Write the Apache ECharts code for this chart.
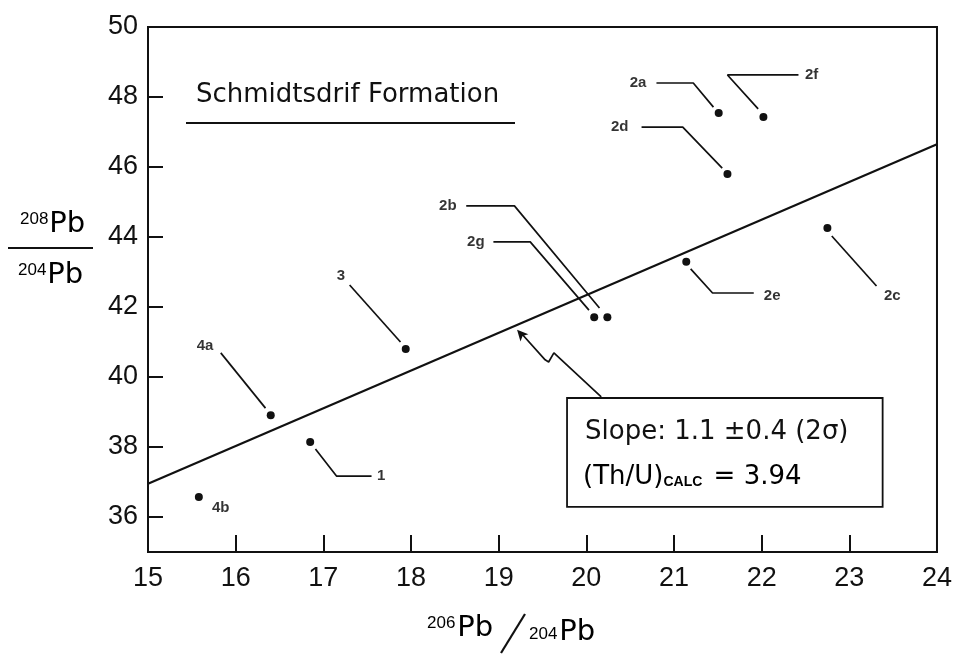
<!DOCTYPE html>
<html>
<head>
<meta charset="utf-8">
<script src="https://cdn.jsdelivr.net/npm/echarts@6/dist/echarts.min.js"></script>
<style>html,body{margin:0;padding:0;background:#fff}#c{width:955px;height:654px}</style>
</head>
<body>
<div id="c"></div>
<script>
// ---- data ----
var sampleNames = ['4b', '4a', '1', '3', '2g', '2b', '2e', '2a', '2f', '2d', '2c'];
var pb206_204 = [15.58, 16.40, 16.85, 17.94, 20.09, 20.24, 21.14, 21.51, 22.02, 21.61, 22.75];
var pb208_204 = [36.57, 38.91, 38.14, 40.80, 41.71, 41.71, 43.29, 47.54, 47.43, 45.80, 44.26];
var fitX = [15, 24];
var fitY = [36.95, 46.65];
var xTickLabels = [15, 16, 17, 18, 19, 20, 21, 22, 23, 24];
var yTickLabels = [36, 38, 40, 42, 44, 46, 48, 50];

// ---- annotation layout (data units) ----
var labelPos = {
  '4b': [15.83, 36.26], '4a': [15.65, 40.89], '1': [17.66, 37.17], '3': [17.20, 42.89],
  '2g': [18.74, 43.86], '2b': [18.42, 44.89], '2e': [22.12, 42.31], '2a': [20.59, 48.40],
  '2f': [22.57, 48.63], '2d': [20.38, 47.14], '2c': [23.49, 42.31]
};
var leaders = [
  [[15.83, 40.69], [16.34, 39.11]],
  [[17.30, 42.63], [17.88, 41.00]],
  [[16.91, 37.94], [17.15, 37.17], [17.55, 37.17]],
  [[18.63, 44.89], [19.18, 44.89], [20.15, 41.97]],
  [[18.94, 43.86], [19.36, 43.86], [20.03, 41.91]],
  [[21.19, 43.09], [21.44, 42.40], [21.91, 42.40]],
  [[22.80, 44.03], [23.31, 42.60]],
  [[20.80, 48.40], [21.22, 48.40], [21.45, 47.71]],
  [[22.42, 48.63], [21.61, 48.63], [21.96, 47.66]],
  [[20.63, 47.14], [21.10, 47.14], [21.55, 45.97]]
];
var arrowPath = [[20.17, 39.43], [19.63, 40.69], [19.57, 40.43], [19.53, 40.49], [19.25, 41.27]];
var arrowHead = [19.21, 41.35];

var FONT = 'Liberation Sans, Arial, Helvetica, sans-serif';
var WIDE = 'DejaVu Sans, Liberation Sans, sans-serif';
var chart = echarts.init(document.getElementById('c'));

var series = [];
series.push({
  type: 'line', data: fitX.map(function (x, i) { return [x, fitY[i]]; }),
  symbol: 'none', silent: true, lineStyle: { color: '#111', width: 2.2 }, z: 3
});
series.push({
  type: 'scatter', data: pb206_204.map(function (x, i) { return [x, pb208_204[i], sampleNames[i]]; }),
  symbol: 'circle', symbolSize: 8, itemStyle: { color: '#111', opacity: 1 }, z: 5
});
leaders.forEach(function (path) {
  series.push({
    type: 'line', data: path, symbol: 'none', silent: true,
    lineStyle: { color: '#111', width: 1.7 }, z: 4
  });
});
series.push({
  type: 'scatter', symbolSize: 0, silent: true,
  data: sampleNames.map(function (n) { return [labelPos[n][0], labelPos[n][1], n]; }),
  label: {
    show: true, position: 'inside', formatter: function (p) { return p.data[2]; },
    color: '#000', fontFamily: FONT, fontWeight: 'bold', fontSize: 15
  }, z: 6
});
series.push({
  type: 'line', data: arrowPath, symbol: 'none', silent: true,
  lineStyle: { color: '#111', width: 1.7 }, z: 4
});
series.push({
  type: 'scatter', data: [arrowHead], symbol: 'arrow', symbolSize: [8, 11], symbolRotate: 42,
  silent: true, itemStyle: { color: '#111', opacity: 1 }, z: 5
});

chart.setOption({
  animation: false,
  backgroundColor: '#fff',
  grid: { left: 148, right: 12, top: 27, bottom: 102, show: true, borderColor: '#111', borderWidth: 2 },
  xAxis: {
    type: 'value', min: 15, max: 24, interval: 1,
    axisLine: { lineStyle: { color: '#111', width: 2 } },
    axisTick: { inside: true, length: 17, lineStyle: { color: '#111', width: 2 }, customValues: [16, 17, 18, 19, 20, 21, 22, 23] },
    axisLabel: { customValues: xTickLabels, color: '#111', fontSize: 27, fontFamily: FONT, margin: 13 },
    splitLine: { show: false }
  },
  yAxis: {
    type: 'value', min: 35, max: 50,
    axisLine: { lineStyle: { color: '#111', width: 2 } },
    axisTick: { inside: true, length: 15, lineStyle: { color: '#111', width: 2 }, customValues: [36, 38, 40, 42, 44, 46, 48] },
    axisLabel: { customValues: yTickLabels, color: '#111', fontSize: 27, fontFamily: FONT, margin: 10 },
    splitLine: { show: false }
  },
  series: series
});

// box corners from data units
var p1 = chart.convertToPixel({ gridIndex: 0 }, [19.78, 39.40]);
var p2 = chart.convertToPixel({ gridIndex: 0 }, [23.38, 36.29]);

chart.setOption({
  graphic: [
    { type: 'text', left: 196, top: 82, style: { text: 'Schmidtsdrif Formation', font: '26px ' + WIDE, fill: '#111' } },
    { type: 'line', shape: { x1: 186, y1: 123, x2: 515, y2: 123 }, style: { stroke: '#111', lineWidth: 2 } },
    { type: 'rect', shape: { x: p1[0], y: p1[1], width: p2[0] - p1[0], height: p2[1] - p1[1] },
      style: { fill: '#fff', stroke: '#111', lineWidth: 1.8 }, z: 10 },
    { type: 'text', x: p1[0] + 18, y: p1[1] + 34, z: 11,
      style: { text: 'Slope: 1.1 \u00b10.4 (2\u03c3)', font: '26px ' + WIDE, fill: '#111', verticalAlign: 'middle' } },
    { type: 'text', x: p1[0] + 16, y: p1[1] + 79, z: 11,
      style: {
        text: '{a|(Th/U)}{b|CALC}{a| = 3.94}', verticalAlign: 'middle',
        rich: { a: { font: '26px ' + WIDE, color: '#111' },
                b: { font: 'bold 14px ' + FONT, color: '#111', padding: [10, 3, 0, 0] } }
      } },
    // y axis title
    { type: 'text', x: 20, y: 224, style: {
        text: '{s|208}{p|Pb}', verticalAlign: 'middle',
        rich: { s: { font: '17px ' + FONT, color: '#111', padding: [0, 1, 10, 0] }, p: { font: '29px ' + WIDE, color: '#111' } } } },
    { type: 'line', shape: { x1: 8, y1: 248, x2: 93, y2: 248 }, style: { stroke: '#111', lineWidth: 2 } },
    { type: 'text', x: 18, y: 275, style: {
        text: '{s|204}{p|Pb}', verticalAlign: 'middle',
        rich: { s: { font: '17px ' + FONT, color: '#111', padding: [0, 1, 10, 0] }, p: { font: '29px ' + WIDE, color: '#111' } } } },
    // x axis title
    { type: 'text', x: 427, y: 628, style: {
        text: '{s|206}{p|Pb}', verticalAlign: 'middle',
        rich: { s: { font: '17px ' + FONT, color: '#111', padding: [0, 2, 10, 0] }, p: { font: '29px ' + WIDE, color: '#111' } } } },
    { type: 'line', shape: { x1: 501, y1: 653, x2: 525, y2: 614 }, style: { stroke: '#111', lineWidth: 2.2 } },
    { type: 'text', x: 529, y: 632, style: {
        text: '{s|204}{p|Pb}', verticalAlign: 'middle',
        rich: { s: { font: '17px ' + FONT, color: '#111', padding: [4, 2, 0, 0] }, p: { font: '29px ' + WIDE, color: '#111' } } } }
  ]
});
</script>
</body>
</html>
